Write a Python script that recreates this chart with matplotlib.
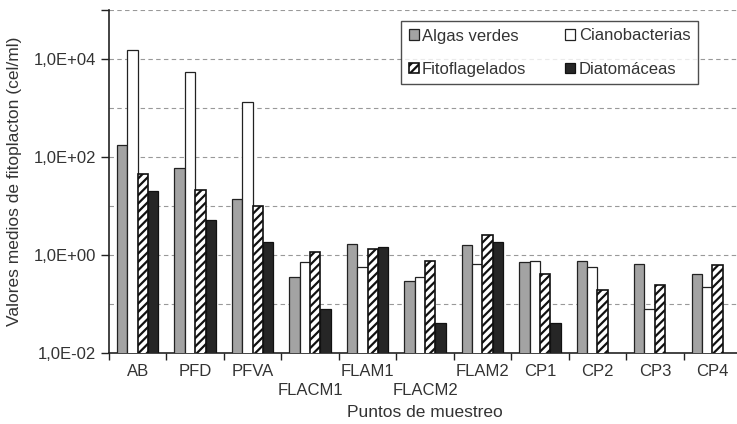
import numpy as np
import matplotlib.pyplot as plt

plt.rcParams['font.family'] = ['Liberation Sans', 'DejaVu Sans']
plt.rcParams['hatch.linewidth'] = 1.6

sites = ['AB', 'PFD', 'PFVA', 'FLACM1', 'FLAM1', 'FLACM2', 'FLAM2', 'CP1', 'CP2', 'CP3', 'CP4']
algas = [175, 60, 14, 0.36, 1.65, 0.29, 1.57, 0.72, 0.75, 0.67, 0.40]
ciano = [15000, 5500, 1350, 0.73, 0.57, 0.36, 0.67, 0.75, 0.57, 0.08, 0.22]
fito = [45, 21, 10, 1.17, 1.3, 0.74, 2.6, 0.41, 0.19, 0.25, 0.63]
diato = [20, 5.2, 1.8, 0.08, 1.43, 0.04, 1.87, 0.04, np.nan, np.nan, np.nan]

fig = plt.figure(figsize=(7.37, 4.24), dpi=100)
ax = fig.add_axes([109/737, 71/424, 632/737, 343/424])

x = np.arange(len(sites))
w = 0.18
txt = '#333333'
b1 = ax.bar(x - 1.5*w, algas, w, color='#a3a3a3', edgecolor='#222222', lw=0.9, label='Algas verdes', zorder=3)
b2 = ax.bar(x - 0.5*w, ciano, w, color='white', edgecolor='#222222', lw=0.9, label='Cianobacterias', zorder=3)
b3 = ax.bar(x + 0.5*w, fito, w, color='white', edgecolor='#111111', hatch='////', lw=1.2, label='Fitoflagelados', zorder=3)
b4 = ax.bar(x + 1.5*w, diato, w, color='#262626', edgecolor='#111111', lw=0.9, label='Diatomáceas', zorder=3)

ax.set_yscale('log')
ax.set_ylim(1e-2, 1e5)
ax.set_xlim(-0.5, len(sites) - 0.5)

for d in range(-1, 6):
    ax.axhline(10.0**d, color='#999999', ls=(0, (4, 3)), lw=0.8, zorder=1)

ax.set_yticks([1e-2, 1e0, 1e2, 1e4, 1e5])
ax.set_yticklabels(['1,0E-02', '1,0E+00', '1,0E+02', '1,0E+04', ''])
ax.yaxis.set_minor_locator(plt.NullLocator())

labels = [s if i not in (3, 5) else '\n' + s for i, s in enumerate(sites)]
ax.set_xticks(x)
ax.set_xticklabels(labels, linespacing=1.35)
ax.set_xticks(np.arange(len(sites) + 1) - 0.5, minor=True)
ax.tick_params(axis='x', which='major', length=0, pad=8, labelsize=12, labelcolor=txt)
ax.tick_params(axis='x', which='minor', length=5, width=1, color='#222222')
ax.tick_params(axis='y', which='major', length=6, width=1, color='#222222', labelsize=12, labelcolor=txt)

for s in ['top', 'right']:
    ax.spines[s].set_visible(False)
ax.spines['left'].set_color('#222222')
ax.spines['bottom'].set_color('#222222')
ax.spines['left'].set_linewidth(1.2)
ax.spines['bottom'].set_linewidth(1.2)

ax.set_xlabel('Puntos de muestreo', fontsize=12.5, color=txt, labelpad=5)
ax.set_ylabel('Valores medios de fitoplacton (cel/ml)', fontsize=12.5, color=txt, labelpad=8)

leg = ax.legend([b1, b3, b2, b4], ['Algas verdes', 'Fitoflagelados', 'Cianobacterias', 'Diatomáceas'],
                ncol=2, loc='upper left', bbox_to_anchor=(292/632, 1 - 11/343), borderaxespad=0, fontsize=12,
                frameon=True, fancybox=False, edgecolor='#222222', handlelength=0.6, handleheight=0.6,
                handletextpad=0.2, columnspacing=2.35, labelspacing=1.1, borderpad=0.45, labelcolor=txt)
leg.get_frame().set_linewidth(1.0)
leg.set_zorder(5)

fig.savefig('out.png', dpi=100)
